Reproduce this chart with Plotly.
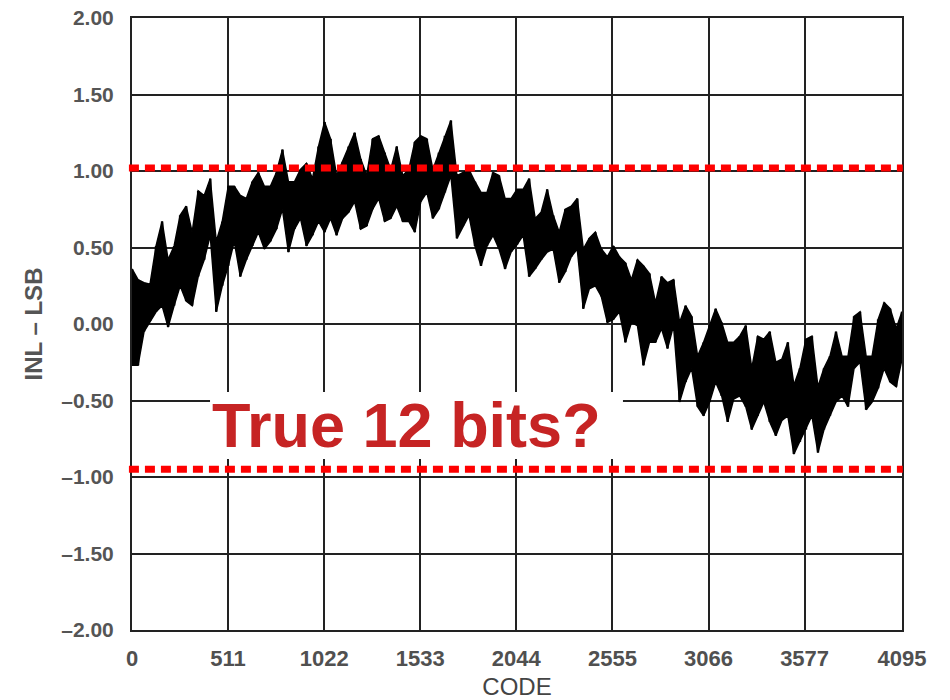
import plotly.graph_objects as go

# Integral non-linearity of a 12-bit DAC, sampled every 32 codes:
# upper and lower extent of the measured INL at each sample (LSB).
codes = [32 * k for k in range(128)] + [4095]

inl_high = [
    0.36, 0.29, 0.27, 0.26, 0.51, 0.67, 0.42, 0.51, 0.71, 0.77,
    0.60, 0.87, 0.84, 0.95, 0.54, 0.67, 0.90, 0.90, 0.84, 0.82,
    0.93, 0.99, 0.90, 0.90, 0.99, 1.14, 0.93, 0.93, 1.01, 1.05,
    0.95, 1.16, 1.32, 1.21, 0.97, 1.06, 1.16, 1.25, 1.08, 0.97,
    1.21, 1.23, 1.12, 1.01, 1.16, 0.97, 1.01, 1.19, 1.23, 1.21,
    1.01, 1.12, 1.23, 1.33, 0.97, 0.99, 1.01, 0.93, 0.86, 0.86,
    0.99, 0.97, 0.82, 0.82, 0.88, 0.88, 0.95, 0.69, 0.73, 0.88,
    0.71, 0.60, 0.75, 0.77, 0.82, 0.49, 0.56, 0.60, 0.49, 0.44,
    0.51, 0.44, 0.40, 0.29, 0.42, 0.38, 0.33, 0.14, 0.31, 0.27,
    0.29, 0.01, 0.12, 0.05, -0.21, -0.12, -0.01, 0.10, 0.01, -0.12,
    -0.12, -0.08, -0.01, -0.29, -0.08, -0.10, -0.05, -0.25, -0.23, -0.12,
    -0.40, -0.29, -0.10, -0.08, -0.41, -0.29, -0.21, -0.05, -0.21, -0.21,
    0.05, 0.08, -0.21, -0.21, 0.03, 0.14, 0.10, -0.03, 0.08,
]

inl_low = [
    -0.27, -0.27, -0.05, 0.02, 0.08, 0.12, -0.02, 0.12, 0.25, 0.15,
    0.12, 0.31, 0.42, 0.58, 0.08, 0.25, 0.38, 0.54, 0.31, 0.42,
    0.51, 0.60, 0.49, 0.54, 0.62, 0.75, 0.47, 0.62, 0.69, 0.51,
    0.58, 0.67, 0.60, 0.69, 0.58, 0.69, 0.73, 0.80, 0.62, 0.64,
    0.75, 0.82, 0.67, 0.69, 0.77, 0.67, 0.67, 0.60, 0.80, 0.86,
    0.69, 0.75, 0.86, 0.97, 0.56, 0.64, 0.71, 0.51, 0.38, 0.51,
    0.58, 0.49, 0.36, 0.47, 0.52, 0.58, 0.31, 0.36, 0.42, 0.47,
    0.49, 0.27, 0.34, 0.44, 0.49, 0.10, 0.23, 0.25, 0.18, 0.01,
    0.03, 0.08, -0.12, 0.01, -0.01, -0.27, -0.12, -0.12, -0.03, -0.16,
    -0.01, -0.51, -0.38, -0.29, -0.54, -0.60, -0.51, -0.38, -0.47, -0.64,
    -0.49, -0.47, -0.54, -0.69, -0.60, -0.51, -0.64, -0.73, -0.63, -0.60,
    -0.85, -0.77, -0.69, -0.60, -0.84, -0.69, -0.60, -0.51, -0.47, -0.54,
    -0.29, -0.25, -0.56, -0.51, -0.42, -0.29, -0.38, -0.41, -0.23,
]

x_ticks = [0, 511, 1022, 1533, 2044, 2555, 3066, 3577, 4095]
x_tick_text = ["0", "511", "1022", "1533", "2044", "2555", "3066", "3577", "4095"]
y_ticks = [-2.0, -1.5, -1.0, -0.5, 0.0, 0.5, 1.0, 1.5, 2.0]
y_tick_text = ["\u20132.00", "\u20131.50", "\u20131.00", "\u20130.50", "0.00",
               "0.50", "1.00", "1.50", "2.00"]

# Limits of a true 12-bit converter (about +/-1 LSB)
limit_upper = 1.02
limit_lower = -0.95
caption = "True 12 bits?"

fig = go.Figure()

# INL envelope as a filled band
fig.add_trace(go.Scatter(
    x=codes, y=inl_low, mode="lines", line=dict(color="black", width=1.5),
    hoverinfo="skip", showlegend=False,
))
fig.add_trace(go.Scatter(
    x=codes, y=inl_high, mode="lines", line=dict(color="black", width=1.5),
    fill="tonexty", fillcolor="black", hoverinfo="skip", showlegend=False,
))

# vertical strokes at each sample for the jagged texture
stroke_x, stroke_y = [], []
for c, lo, hi in zip(codes, inl_low, inl_high):
    stroke_x += [c, c, None]
    stroke_y += [lo, hi, None]
fig.add_trace(go.Scatter(
    x=stroke_x, y=stroke_y, mode="lines", line=dict(color="black", width=2.5),
    hoverinfo="skip", showlegend=False,
))

# red dotted limit lines
for level in (limit_upper, limit_lower):
    fig.add_shape(
        type="line", xref="paper", yref="y", x0=-0.004, x1=1.001, y0=level, y1=level,
        line=dict(color="#ff0000", width=7, dash="10px,6px"), layer="above",
    )

# caption on a white plate
fig.add_shape(
    type="rect", xref="x", yref="y", x0=415, x1=2611, y0=-0.882, y1=-0.444,
    fillcolor="white", line=dict(width=0), layer="above",
)
fig.add_annotation(
    x=1462, y=-0.66, xref="x", yref="y", text="<b>" + caption + "</b>",
    showarrow=False, xanchor="center", yanchor="middle",
    font=dict(family="Liberation Sans, Arial, sans-serif", size=63, color="#c62424"),
)

font_family = "Liberation Sans, Arial, sans-serif"
grid_color = "#222222"

fig.update_xaxes(
    range=[0, 4095], tickvals=x_ticks, ticktext=["<b>" + t + "</b>" for t in x_tick_text],
    automargin=False,
    showgrid=True, gridcolor=grid_color, gridwidth=2,
    showline=True, linecolor=grid_color, linewidth=2, mirror=True,
    zeroline=False, ticks="", ticklabelstandoff=8,
    tickfont=dict(family=font_family, size=22, color="#505050"),
    title=dict(text="CODE", font=dict(family=font_family, size=24, color="#444444"), standoff=12),
)
fig.update_yaxes(
    range=[-2, 2], tickvals=y_ticks, ticktext=["<b>" + t + "</b>" for t in y_tick_text],
    automargin=False,
    showgrid=True, gridcolor=grid_color, gridwidth=2,
    showline=True, linecolor=grid_color, linewidth=2, mirror=True,
    zeroline=False, ticks="", ticklabelstandoff=12,
    tickfont=dict(family=font_family, size=21, color="#555555"),
    title=dict(text="<b>INL \u2013 LSB</b>", font=dict(family=font_family, size=24, color="#555555"),
               standoff=12),
)

fig.update_layout(
    width=950, height=700,
    margin=dict(l=132, r=48, t=18, b=70),
    paper_bgcolor="white", plot_bgcolor="white",
    showlegend=False,
)

fig.write_html("out.html")
